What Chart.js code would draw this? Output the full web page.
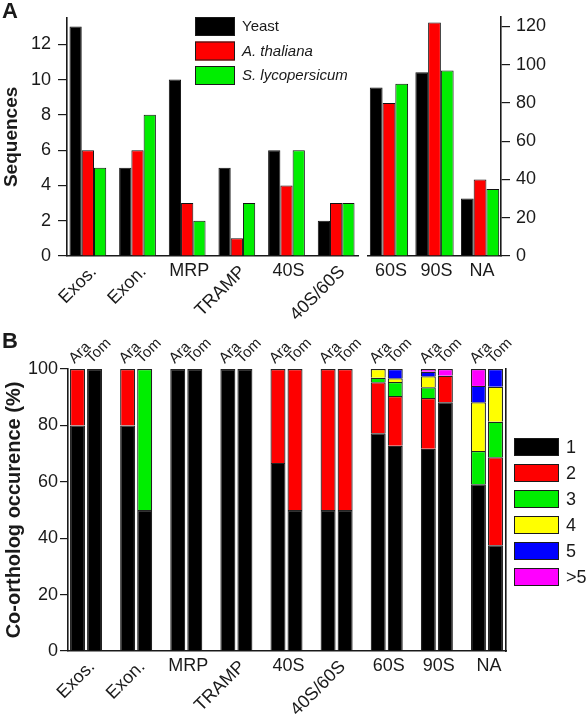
<!DOCTYPE html>
<html>
<head>
<meta charset="utf-8">
<script src="https://cdn.jsdelivr.net/npm/chart.js@4.4.1/dist/chart.umd.min.js"></script>
<style>
html, body { margin: 0; padding: 0; background: #fff; }
#wrap { position: relative; width: 588px; height: 715px; overflow: hidden; }
canvas { position: absolute; }
#chartA1 { left: 0; top: 0; }
#chartA2 { left: 362px; top: 0; }
#chartB  { left: 0; top: 325px; }
</style>
</head>
<body>
<div id="wrap">
  <canvas id="chartA1" width="362" height="320"></canvas>
  <canvas id="chartA2" width="226" height="320"></canvas>
  <canvas id="chartB" width="588" height="390"></canvas>
</div>
<script>
// ---- panel A : number of sequences ----
var groupsLeft  = ["Exos.", "Exon.", "MRP", "TRAMP", "40S", "40S/60S"];
var groupsRight = ["60S", "90S", "NA"];
var speciesNames = ["Yeast", "A. thaliana", "S. lycopersicum"];

var yeastLeft    = [13, 5, 10, 5, 6, 2];
var thalianaLeft = [6, 6, 3, 1, 4, 3];
var lycoLeft     = [5, 8, 2, 3, 6, 3];

var yeastRight    = [88, 96, 30];
var thalianaRight = [80, 122, 40];
var lycoRight     = [90, 97, 35];

var seqTicksLeft  = [0, 2, 4, 6, 8, 10, 12];
var seqTicksRight = [0, 20, 40, 60, 80, 100, 120];

// ---- panel B : co-ortholog occurence (%) ----
var groupsB = ["Exos.", "Exon.", "MRP", "TRAMP", "40S", "40S/60S", "60S", "90S", "NA"];
var speciesB = ["Ara", "Tom"];
var copyClasses = ["1", "2", "3", "4", "5", ">5"];

var ara1 = [80, 80, 100, 100, 66.7, 50, 77.2, 71.7, 59.1];
var ara2 = [20, 20, 0, 0, 33.3, 50, 18.1, 18.0, 0];
var ara3 = [0, 0, 0, 0, 0, 0, 1.6, 3.8, 11.8];
var ara4 = [0, 0, 0, 0, 0, 0, 3.1, 3.9, 17.3];
var ara5 = [0, 0, 0, 0, 0, 0, 0, 1.6, 5.8];
var ara6 = [0, 0, 0, 0, 0, 0, 0, 1.0, 6.0];

var tom1 = [100, 50, 100, 100, 50, 50, 72.8, 88.2, 37.5];
var tom2 = [0, 0, 0, 0, 50, 50, 17.6, 9.4, 31.2];
var tom3 = [0, 50, 0, 0, 0, 0, 5.0, 0, 12.6];
var tom4 = [0, 0, 0, 0, 0, 0, 1.3, 0, 12.4];
var tom5 = [0, 0, 0, 0, 0, 0, 3.3, 0, 6.3];
var tom6 = [0, 0, 0, 0, 0, 0, 0, 2.4, 0];

var pctTicks = [0, 20, 40, 60, 80, 100];

// ---- styles ----
var FONT = "'Liberation Sans', Arial, Helvetica, sans-serif";
var INK = "#1a1a1a";
var speciesColors = ["#000000", "#fe0000", "#00ee00"];
var classColors = ["#000000", "#fe0000", "#00ee00", "#ffff00", "#0000ff", "#ff00ff"];
var slanted = ["Exos.", "Exon.", "TRAMP", "40S/60S"];

Chart.defaults.font.family = FONT;
Chart.defaults.color = INK;

function points(arr) {
    return arr.map(function (v, i) { return { x: i, y: v }; });
}

function fixedTicks(list) {
    return function (axis) {
        axis.ticks = list.map(function (v) { return { value: v }; });
    };
}

// group names under the x axis, some of them tilted
function drawGroupLabels(chart, names) {
    var ctx = chart.ctx;
    var xs = chart.scales.x;
    var bottom = chart.chartArea.bottom;
    ctx.save();
    ctx.fillStyle = INK;
    ctx.font = "18px " + FONT;
    names.forEach(function (name, i) {
        var cx = xs.getPixelForValue(i);
        if (slanted.indexOf(name) >= 0) {
            ctx.save();
            ctx.translate(cx + 6, bottom + 13);
            ctx.rotate(-Math.PI / 4);
            ctx.textAlign = "right";
            ctx.textBaseline = "middle";
            ctx.fillText(name, 0, 0);
            ctx.restore();
        } else {
            ctx.textAlign = "center";
            ctx.textBaseline = "top";
            ctx.fillText(name, cx + 2, bottom + 6);
        }
    });
    ctx.restore();
}

function panelLetter(ctx, letter, x, y) {
    ctx.save();
    ctx.fillStyle = INK;
    ctx.font = "bold 22px " + FONT;
    ctx.textAlign = "left";
    ctx.textBaseline = "alphabetic";
    ctx.fillText(letter, x, y);
    ctx.restore();
}

function axisBase(extra) {
    var o = {
        grid: { display: true, drawOnChartArea: false, drawTicks: true, tickLength: 9, color: INK, lineWidth: 1.2 },
        border: { display: true, color: INK, width: 1.6 },
        ticks: { color: INK, font: { size: 18 }, padding: 7 }
    };
    for (var k in extra) o[k] = extra[k];
    return o;
}

function hiddenX(min, max, h) {
    return {
        type: "linear", min: min, max: max, offset: false,
        grid: { display: false },
        ticks: { display: false },
        border: { display: true, color: INK, width: 1.6 },
        afterFit: function (s) { s.height = h; }
    };
}

// ---------------- panel A, left part ----------------
var pluginA1 = {
    id: "decorA1",
    afterDraw: function (chart) {
        var ctx = chart.ctx;
        drawGroupLabels(chart, groupsLeft);
        panelLetter(ctx, "A", 2, 18);
        // legend
        chart.data.datasets.forEach(function (ds, k) {
            var y = 17 + k * 24.5;
            ctx.save();
            ctx.fillStyle = ds.backgroundColor;
            ctx.fillRect(195, y, 40, 19);
            ctx.strokeStyle = INK;
            ctx.lineWidth = 1;
            ctx.strokeRect(195.5, y + 0.5, 39, 18);
            ctx.fillStyle = INK;
            ctx.font = (k > 0 ? "italic " : "") + "15px " + FONT;
            ctx.textAlign = "left";
            ctx.textBaseline = "middle";
            ctx.fillText(ds.label, 242, y + 10);
            ctx.restore();
        });
    }
};

new Chart(document.getElementById("chartA1"), {
    type: "bar",
    data: {
        datasets: [
            { label: speciesNames[0], data: points(yeastLeft),    backgroundColor: speciesColors[0] },
            { label: speciesNames[1], data: points(thalianaLeft), backgroundColor: speciesColors[1] },
            { label: speciesNames[2], data: points(lycoLeft),     backgroundColor: speciesColors[2] }
        ]
    },
    options: {
        responsive: false,
        animation: false,
        layout: { padding: { left: 0, right: 4, top: 12, bottom: 0 } },
        datasets: { bar: { categoryPercentage: 0.74, barPercentage: 1, borderWidth: 1, borderColor: "#111" } },
        plugins: { legend: { display: false }, tooltip: { enabled: false } },
        scales: {
            x: hiddenX(-0.42, 5.44, 64),
            y: axisBase({
                min: 0, max: 13.5,
                afterBuildTicks: fixedTicks(seqTicksLeft),
                afterFit: function (s) { s.width = 67; },
                title: { display: true, text: "Sequences", color: INK, font: { size: 19, weight: "bold" }, padding: { top: 0, bottom: 0 } }
            })
        }
    },
    plugins: [pluginA1]
});

// ---------------- panel A, right part ----------------
new Chart(document.getElementById("chartA2"), {
    type: "bar",
    data: {
        datasets: [
            { label: speciesNames[0], data: points(yeastRight),    backgroundColor: speciesColors[0] },
            { label: speciesNames[1], data: points(thalianaRight), backgroundColor: speciesColors[1] },
            { label: speciesNames[2], data: points(lycoRight),     backgroundColor: speciesColors[2] }
        ]
    },
    options: {
        responsive: false,
        animation: false,
        layout: { padding: { left: 6, right: 0, top: 12, bottom: 0 } },
        datasets: { bar: { categoryPercentage: 0.84, barPercentage: 1, borderWidth: 1, borderColor: "#111" } },
        plugins: { legend: { display: false }, tooltip: { enabled: false } },
        scales: {
            x: hiddenX(-0.46, 2.46, 64),
            y: axisBase({
                position: "right",
                min: 0, max: 125,
                afterBuildTicks: fixedTicks(seqTicksRight),
                afterFit: function (s) { s.width = 87; },
                ticks: { color: INK, font: { size: 18 }, padding: 6 }
            })
        }
    },
    plugins: [{
        id: "decorA2",
        afterDraw: function (chart) { drawGroupLabels(chart, groupsRight); }
    }]
});

// ---------------- panel B ----------------
var araSeries = [ara1, ara2, ara3, ara4, ara5, ara6];
var tomSeries = [tom1, tom2, tom3, tom4, tom5, tom6];
var datasetsB = [];
copyClasses.forEach(function (cls, k) {
    datasetsB.push({ label: cls, stack: speciesB[0], data: points(araSeries[k]), backgroundColor: classColors[k] });
    datasetsB.push({ label: cls, stack: speciesB[1], data: points(tomSeries[k]), backgroundColor: classColors[k] });
});

var pluginB = {
    id: "decorB",
    afterDraw: function (chart) {
        var ctx = chart.ctx;
        var top = chart.chartArea.top;
        drawGroupLabels(chart, groupsB);
        panelLetter(ctx, "B", 2, 23);

        // Ara / Tom over every pair of bars
        ctx.save();
        ctx.fillStyle = INK;
        ctx.font = "15px " + FONT;
        ctx.textAlign = "left";
        ctx.textBaseline = "alphabetic";
        groupsB.forEach(function (name, i) {
            speciesB.forEach(function (sp, s) {
                var bar = chart.getDatasetMeta(s).data[i];
                ctx.save();
                ctx.translate(bar.x - 3, top - 5);
                ctx.rotate(-Math.PI / 4);
                ctx.fillText(sp, 0, 0);
                ctx.restore();
            });
        });
        ctx.restore();

        // legend of copy classes
        copyClasses.forEach(function (cls, k) {
            var y = 113 + k * 26;
            ctx.save();
            ctx.fillStyle = classColors[k];
            ctx.fillRect(514, y, 45, 18);
            ctx.strokeStyle = INK;
            ctx.lineWidth = 1;
            ctx.strokeRect(514.5, y + 0.5, 44, 17);
            ctx.fillStyle = INK;
            ctx.font = "18px " + FONT;
            ctx.textAlign = "left";
            ctx.textBaseline = "middle";
            ctx.fillText(cls, 566, y + 10);
            ctx.restore();
        });
    }
};

new Chart(document.getElementById("chartB"), {
    type: "bar",
    data: { datasets: datasetsB },
    options: {
        responsive: false,
        animation: false,
        layout: { padding: { left: 0, right: 0, top: 44, bottom: 0 } },
        datasets: { bar: { categoryPercentage: 0.68, barPercentage: 0.88, borderWidth: 1.2, borderColor: "#222" } },
        plugins: { legend: { display: false }, tooltip: { enabled: false } },
        scales: {
            x: hiddenX(-0.36, 8.38, 64),
            y: axisBase({
                stacked: true,
                min: 0, max: 100,
                afterBuildTicks: fixedTicks(pctTicks),
                afterFit: function (s) { s.width = 68; },
                grid: { display: true, drawOnChartArea: false, drawTicks: true, tickLength: 8, color: INK, lineWidth: 1.2 },
                ticks: { color: INK, font: { size: 18 }, padding: 2 },
                title: { display: true, text: "Co-ortholog occurence (%)", color: INK, font: { size: 20, weight: "bold" }, padding: { top: 2, bottom: 0 } }
            }),
            y2: {
                position: "right",
                min: 0, max: 100,
                grid: { display: false },
                ticks: { display: false },
                border: { display: true, color: INK, width: 1.6 },
                afterFit: function (s) { s.width = 82; }
            }
        }
    },
    plugins: [pluginB]
});
</script>
</body>
</html>
